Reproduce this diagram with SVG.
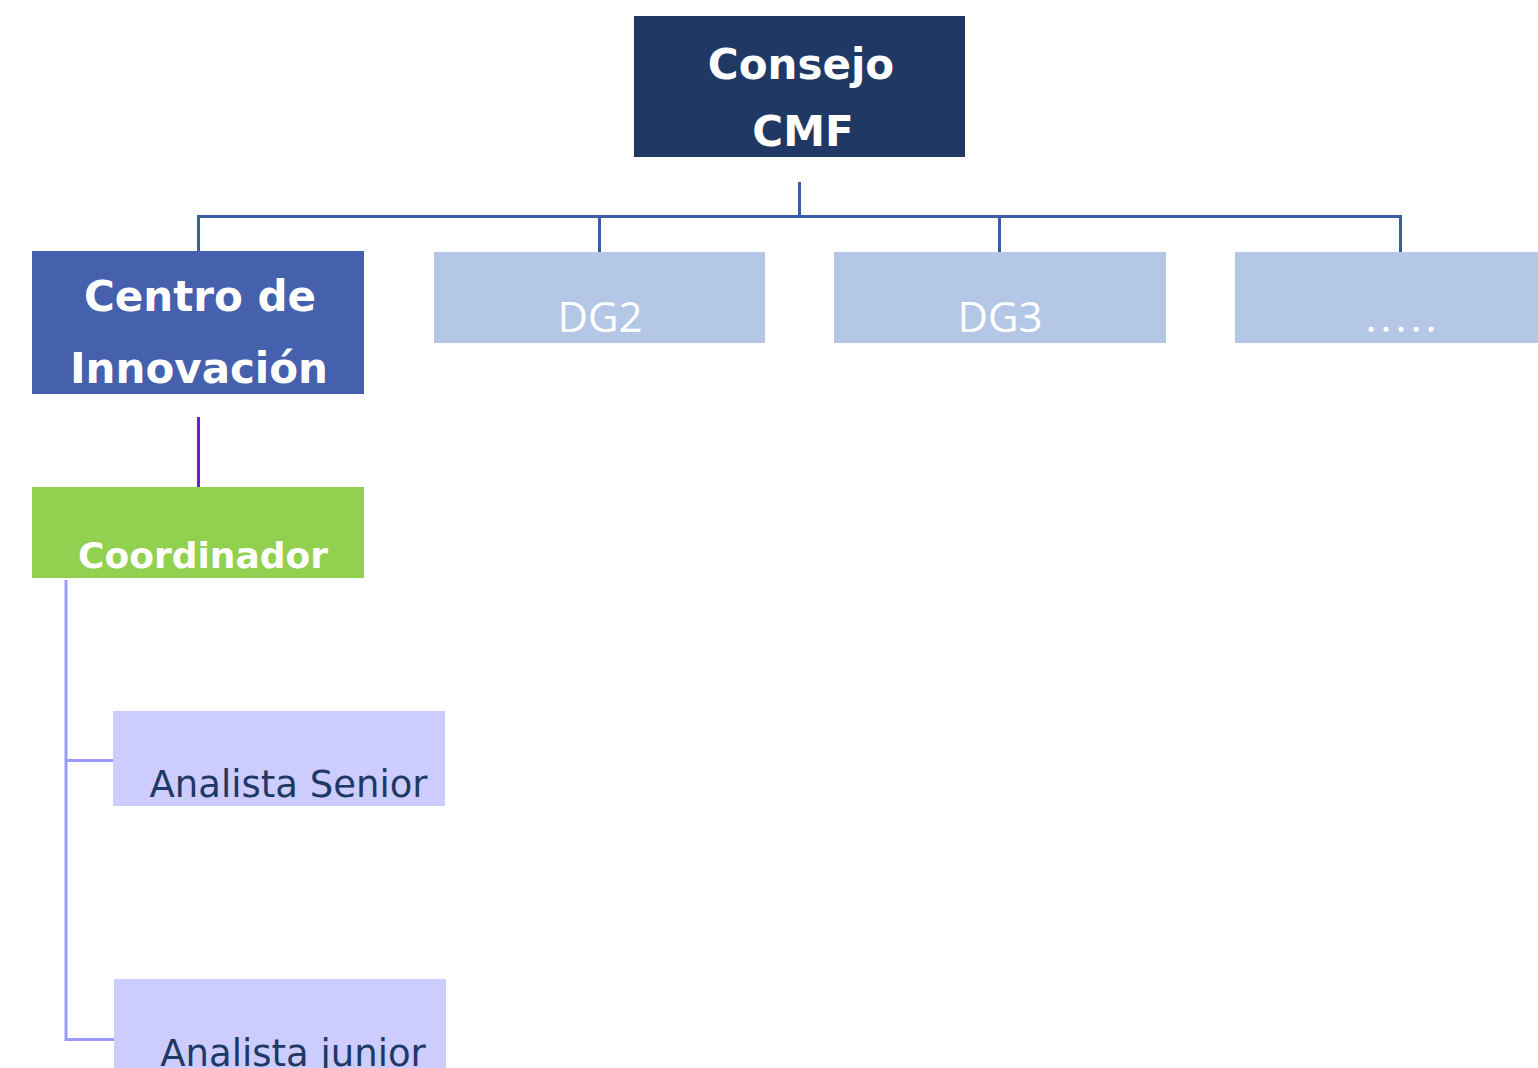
<svg xmlns="http://www.w3.org/2000/svg" width="1538" height="1068" viewBox="0 0 1538 1068">
<style>
.b{font-family:"DejaVu Sans",Verdana,sans-serif;font-weight:bold;fill:#fff;text-anchor:middle}
.dg{font-family:"Open Sans","Liberation Sans",sans-serif;fill:#fff;text-anchor:middle;font-size:42px}
.an{font-family:"DejaVu Sans",Verdana,sans-serif;fill:#203864;text-anchor:middle;font-size:37px}
.c1{stroke:#3A5EA3;stroke-width:3;fill:none}
.c2{stroke:#7020D0;stroke-width:3;fill:none}
.c3{stroke:#9999FF;stroke-width:3;fill:none}
</style>
<rect width="1538" height="1068" fill="#fff"/>
<g id="connectors">
<path class="c1" d="M799.5 182V216.5M198.5 251V216.5H1400.5V252M599.5 216.5V252M999.5 216.5V252"/>
<path class="c2" d="M198.5 417V487"/>
<path class="c3" d="M66 580V1039.5H114M66 760.5H113"/>
</g>
<g id="consejo">
<rect x="634" y="16" width="331" height="141" fill="#203864"/>
<text class="b" x="801" y="79" font-size="42">Consejo</text>
<text class="b" x="803" y="146" font-size="42">CMF</text>
</g>
<g id="centro">
<rect x="32" y="251" width="332" height="143" fill="#4560AD"/>
<text class="b" x="200" y="311" font-size="42">Centro de</text>
<text class="b" x="199" y="383" font-size="42">Innovación</text>
</g>
<g id="dg2">
<rect x="434" y="252" width="331" height="91" fill="#B4C7E7"/>
<text class="dg" x="600" y="332">DG2</text>
</g>
<g id="dg3">
<rect x="834" y="252" width="332" height="91" fill="#B4C7E7"/>
<text class="dg" x="1000" y="332">DG3</text>
</g>
<g id="dots">
<rect x="1235" y="252" width="303" height="91" fill="#B4C7E7"/>
<text class="dg" x="1403" y="332" letter-spacing="4">.....</text>
</g>
<g id="coordinador">
<rect x="32" y="487" width="332" height="91" fill="#92D050"/>
<text class="b" x="203" y="568" font-size="36">Coordinador</text>
</g>
<g id="senior">
<rect x="113" y="711" width="332" height="95" fill="#CCCCFF"/>
<text class="an" x="288.5" y="797">Analista Senior</text>
</g>
<g id="junior">
<rect x="114" y="979" width="332" height="89" fill="#CCCCFF"/>
<text class="an" x="293" y="1066">Analista junior</text>
</g>
</svg>
